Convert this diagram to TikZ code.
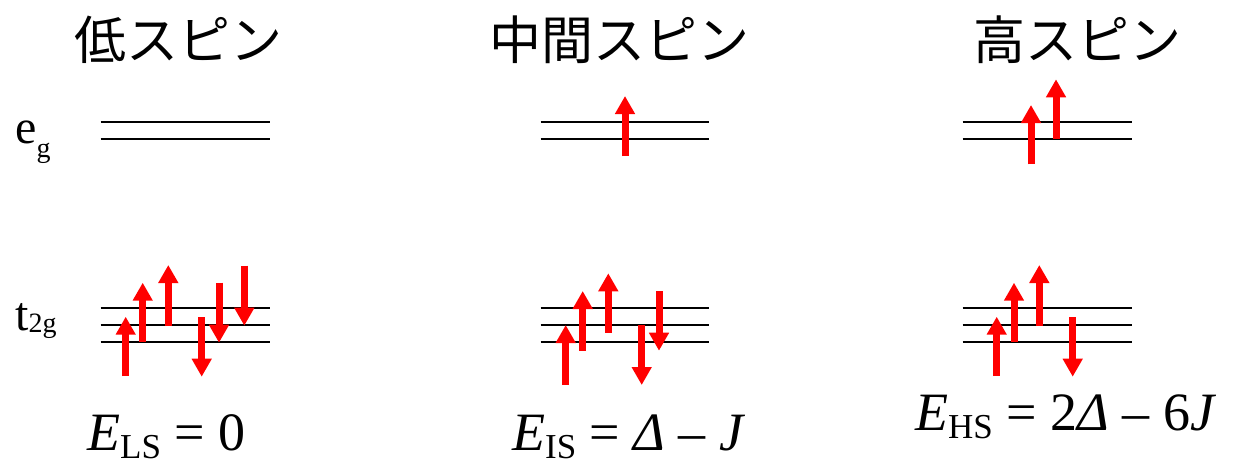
\documentclass[tikz,border=0pt]{standalone}
\usepackage{fontspec}
\setmainfont{Liberation Serif}
\newfontfamily\jpfont{Noto Sans CJK JP}
\usetikzlibrary{arrows.meta}
\tikzset{
  level/.style={line width=2pt},
  spin/.style={red, line width=7pt, -{Triangle[width=19pt,length=18pt]}},
  title/.style={font=\jpfont\fontsize{52}{56}\selectfont, inner sep=0pt},
  orb/.style={font=\fontsize{48}{52}\selectfont, inner sep=0pt, anchor=base west},
  energy/.style={font=\fontsize{54}{58}\selectfont, inner sep=0pt, anchor=base west},
}
\newcommand{\lowsub}[3]{\raisebox{-#1pt}{\fontsize{#2}{#2}\selectfont #3}}
\begin{document}
\begin{tikzpicture}[x=1pt,y=-1pt]
		\useasboundingbox (0,0) rectangle (1233,463);
		% titles
		\node[title] (ls) at (178.5,40) {低スピン};
		\node[title] (is) at (619,40)   {中間スピン};
		\node[title] (hs) at (1077,40)  {高スピン};
		% orbital labels
		\node[orb] (eg)  at (15,143) {e\lowsub{14}{28}{g}};
		\node[orb] (t2g) at (15,330) {t\lowsub{2}{28}{2g}};
		% levels
		\foreach \xa/\xb in {100.7/270, 540.7/709, 962.7/1131.7} {
			\foreach \y in {121.7,139.3} \draw[level] (\xa,\y) -- (\xb,\y);
			\foreach \y in {308.3,325.3,342.3} \draw[level] (\xa,\y) -- (\xb,\y);
		}
		% spins
		\foreach \x/\ya/\yb in {125.7/376/316.7, 142.7/341.7/282.7, 168.3/326/265,
				201.7/317.3/376.7, 219/282.7/342.7, 244.3/265.7/325.7,
				565.7/385/325, 582.7/350.7/291, 608.3/332.7/273.3,
				641.7/325/385, 659/291/350.7, 625/156/96,
				996.7/376/316.7, 1014/341.7/282.7, 1039.3/325.7/265,
				1072.7/317.3/376.7, 1031/164.3/105, 1056/139/79.3}
			\draw[spin] (\x,\ya) -- (\x,\yb);
		% energies
		\node[energy] (els) at (87,450)  {\textit{E}\lowsub{8}{35}{LS} = 0};
		\node[energy] (eis) at (512,450) {\textit{E}\lowsub{8}{35}{IS} = \textit{Δ} – \textit{J}};
		\node[energy] (ehs) at (915,430) {\textit{E}\lowsub{8}{35}{HS} = 2\textit{Δ} – 6\textit{J}};
\end{tikzpicture}
\end{document}
